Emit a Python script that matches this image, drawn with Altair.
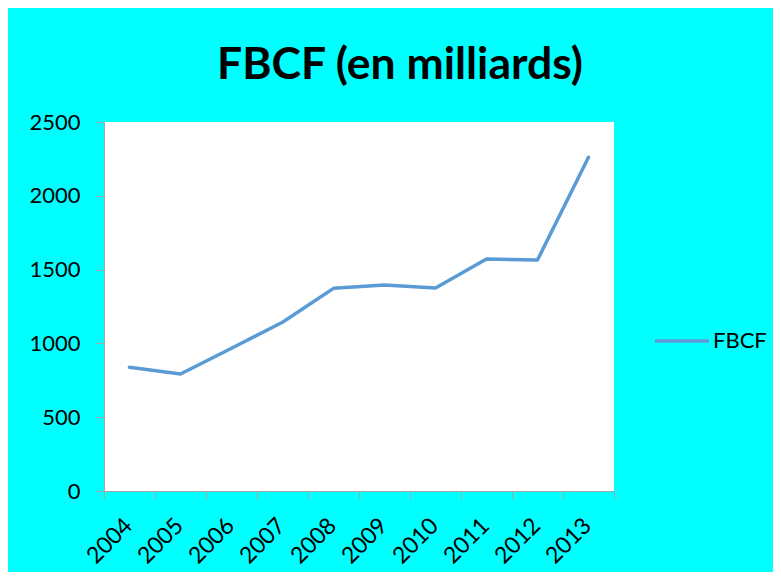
import altair as alt
import pandas as pd

years = ["2004", "2005", "2006", "2007", "2008", "2009", "2010", "2011", "2012", "2013"]
values = [838, 793, 967, 1143, 1373, 1395, 1375, 1572, 1565, 2261]
series = ["FBCF"] * len(years)

df = pd.DataFrame({"year": years, "value": values, "series": series})

FONT = "Lato"
AXIS_COLOR = "#A6A6A6"

chart = (
    alt.Chart(df)
    .mark_line(strokeWidth=3.5, strokeCap="round", strokeJoin="round")
    .encode(
        x=alt.X(
            "year:N",
            sort=years,
            scale=alt.Scale(paddingInner=0, paddingOuter=0),
            axis=alt.Axis(
                title=None,
                labelAngle=-45,
                labelAlign="right",
                labelBaseline="top",
                labelFontSize=23,
                labelFont=FONT,
                labelColor="black",
                labelPadding=15,
                labelOffset=-9,
                tickBand="extent",
                tickSize=8,
                tickColor=AXIS_COLOR,
                domainColor=AXIS_COLOR,
                grid=False,
            ),
        ),
        y=alt.Y(
            "value:Q",
            scale=alt.Scale(domain=[0, 2500]),
            axis=alt.Axis(
                title=None,
                values=[0, 500, 1000, 1500, 2000, 2500],
                format="d",
                labelFontSize=22,
                labelFont=FONT,
                labelColor="black",
                labelPadding=16,
                tickSize=8,
                tickColor=AXIS_COLOR,
                domainColor=AXIS_COLOR,
                grid=False,
            ),
        ),
        color=alt.Color(
            "series:N",
            scale=alt.Scale(range=["#5B9BD5"]),
            legend=alt.Legend(
                title=None,
                orient="none",
                legendX=549,
                legendY=190,
                symbolType="stroke",
                symbolSize=2916,
                symbolStrokeWidth=3.5,
                labelFont=FONT,
                labelFontSize=22,
                labelColor="black",
                labelOffset=2,
            ),
        ),
    )
    .properties(
        width=510,
        height=369,
        background="#00FFFF",
        padding={"left": 96, "top": 114, "right": 159, "bottom": 81},
        autosize=alt.AutoSizeParams(type="none"),
        title=alt.TitleParams(
            "FBCF (en milliards)",
            font=FONT,
            fontSize=44.5,
            fontWeight="bold",
            color="black",
            anchor="middle",
            frame="group",
            baseline="alphabetic",
            dx=41,
            dy=43,
            offset=31,
        ),
    )
    .configure_view(fill="white", stroke=None)
)

chart.save("out.html", embed_options={"renderer": "svg", "actions": False})
